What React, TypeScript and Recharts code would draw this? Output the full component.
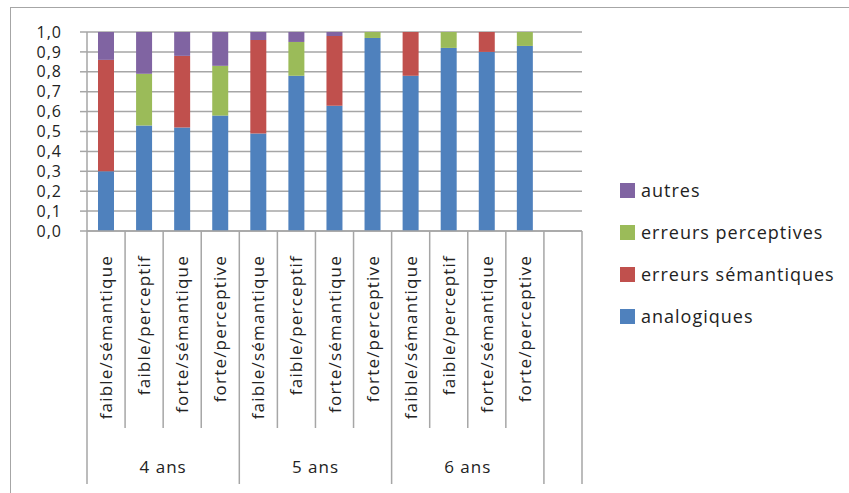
import { BarChart, Bar, XAxis, YAxis, CartesianGrid } from "recharts";

const categories = [
  "faible/sémantique", "faible/perceptif", "forte/sémantique", "forte/perceptive",
  "faible/sémantique", "faible/perceptif", "forte/sémantique", "forte/perceptive",
  "faible/sémantique", "faible/perceptif", "forte/sémantique", "forte/perceptive",
  "",
];
const groups = ["4 ans", "5 ans", "6 ans"];

const analogiques = [0.30, 0.53, 0.52, 0.58, 0.49, 0.78, 0.63, 0.97, 0.78, 0.92, 0.90, 0.93, null];
const semantiques = [0.56, 0, 0.36, 0, 0.47, 0, 0.35, 0, 0.22, 0, 0.10, 0, null];
const perceptives = [0, 0.26, 0, 0.25, 0, 0.17, 0, 0.03, 0, 0.08, 0, 0.07, null];
const autres = [0.14, 0.21, 0.12, 0.17, 0.04, 0.05, 0.02, 0, 0, 0, 0, 0, null];

const yTicks = [0, 0.1, 0.2, 0.3, 0.4, 0.5, 0.6, 0.7, 0.8, 0.9, 1.0];

const series = [
  { key: "analogiques", name: "analogiques", color: "#4F81BD" },
  { key: "semantiques", name: "erreurs sémantiques", color: "#C0504D" },
  { key: "perceptives", name: "erreurs perceptives", color: "#9BBB59" },
  { key: "autres", name: "autres", color: "#8064A2" },
];

const data = categories.map((c, i) => ({
  cat: c,
  analogiques: analogiques[i],
  semantiques: semantiques[i],
  perceptives: perceptives[i],
  autres: autres[i],
}));

const FONT = "'Open Sans', sans-serif";
const GRID = "#A6A6A6";
const TXT = "#222";
const W = 849;
const H = 493;
const M = { top: 32, right: 267, bottom: 0, left: 0 };
const Y_W = 87;
const X_H = 262;
const STEP = (W - M.left - M.right - Y_W) / categories.length;

function CatTick(props: any) {
  const { x, y, payload } = props;
  const i = payload.index;
  const half = STEP / 2;
  const els = [];
  els.push(<line key="l" x1={x - half} x2={x - half} y1={y - 8} y2={i % 4 === 0 ? y + 245 : y + 189} stroke={GRID} strokeWidth={1.5} />);
  if (i === categories.length - 1) {
    els.push(<line key="r" x1={x + half} x2={x + half} y1={y - 8} y2={y + 245} stroke={GRID} strokeWidth={1.5} />);
  }
  if (payload.value) {
    els.push(
      <text key="t" x={0} y={0} transform={`translate(${x + 6},${y + 16}) rotate(-90)`} textAnchor="end" fontSize={17} letterSpacing={1.2} fill={TXT} fontFamily={FONT}>
        {payload.value}
      </text>
    );
  }
  if (i % 4 === 1 && groups[Math.floor(i / 4)]) {
    els.push(
      <text key="g" x={x + half} y={y + 234} textAnchor="middle" fontSize={17} letterSpacing={1} fill={TXT} fontFamily={FONT}>
        {groups[Math.floor(i / 4)]}
      </text>
    );
  }
  return <g>{els}</g>;
}

function LegendBox() {
  const items = [...series].reverse();
  return (
    <div style={{ position: "absolute", left: 620, top: 169, fontFamily: FONT, fontSize: 18, letterSpacing: 1, color: TXT }}>
      {items.map((s) => (
        <div key={s.key} style={{ display: "flex", alignItems: "center", height: 42 }}>
          <span style={{ width: 15, height: 15, background: s.color, display: "inline-block", marginRight: 6 }} />
          <span>{s.name}</span>
        </div>
      ))}
    </div>
  );
}

export default function App() {
  return (
    <div style={{ position: "absolute", left: 0, top: 0, width: W, height: H, background: "#fff", overflow: "hidden" }}>
      <div style={{ position: "absolute", left: 10, top: 7, width: W, height: H, border: `1.5px solid ${GRID}` }} />
      <BarChart width={W} height={H} data={data} margin={M} barSize={16} barCategoryGap={0}>
        <CartesianGrid vertical={false} stroke={GRID} strokeWidth={1.5} />
        <XAxis
          dataKey="cat"
          height={X_H}
          interval={0}
          tick={<CatTick />}
          tickLine={false}
          axisLine={{ stroke: GRID, strokeWidth: 1.5 }}
        />
        <YAxis
          width={Y_W}
          domain={[0, 1]}
          ticks={yTicks}
          interval={0}
          tickFormatter={(v: number) => v.toFixed(1).replace(".", ",")}
          tick={{ fontSize: 16, fill: TXT, fontFamily: FONT, letterSpacing: 1 }}
          tickSize={7}
          tickMargin={18}
          tickLine={{ stroke: GRID, strokeWidth: 1.5 }}
          axisLine={{ stroke: GRID, strokeWidth: 1.5 }}
        />
        {series.map((s) => (
          <Bar key={s.key} dataKey={s.key} name={s.name} stackId="a" fill={s.color} isAnimationActive={false} />
        ))}
      </BarChart>
      <LegendBox />
    </div>
  );
}
